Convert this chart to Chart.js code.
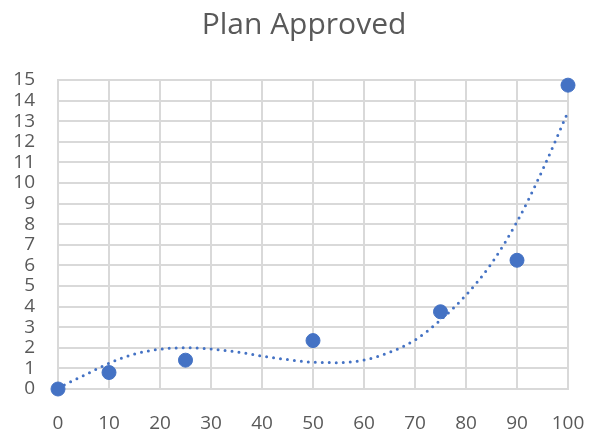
<!DOCTYPE html>
<html>
<head>
<meta charset="utf-8">
<script src="https://cdn.jsdelivr.net/npm/chart.js@4/dist/chart.umd.min.js"></script>
<style>
  html, body { margin: 0; padding: 0; background: #ffffff; }
  #wrap { width: 591px; height: 430px; }
</style>
</head>
<body>
<div id="wrap"><canvas id="c" width="591" height="430"></canvas></div>
<script>
// Observed plan approvals
const xValues = [0, 10, 25, 50, 75, 90, 100];
const yValues = [0, 0.8, 1.4, 2.35, 3.75, 6.25, 14.75];

// Polynomial trendline, sampled every 5 units
const trendX = [0, 5, 10, 15, 20, 25, 30, 35, 40, 45, 50, 55, 60, 65, 70, 75, 80, 85, 90, 95, 100];
const trendY = [0.05, 0.65, 1.25, 1.7, 1.93, 2.0, 1.94, 1.8, 1.6, 1.43, 1.3, 1.28, 1.41, 1.78, 2.38, 3.35, 4.56, 6.1, 8.12, 10.63, 13.46];

// Axis ranges / tick steps
const xTicks = { min: 0, max: 100, step: 10 };
const yTicks = { min: 0, max: 15, step: 1 };

const TITLE = 'Plan Approved';
const BLUE = '#4472C4';
const GRID = '#d9d9d9';
const TEXT = '#595959';
const FONT = "'Open Sans', 'Liberation Sans', sans-serif";

// Chart title, centred over the whole figure
const titlePlugin = {
  id: 'figureTitle',
  afterDraw(chart) {
    const ctx = chart.ctx;
    ctx.save();
    ctx.fillStyle = TEXT;
    ctx.font = `30px ${FONT}`;
    ctx.textAlign = 'center';
    ctx.textBaseline = 'middle';
    ctx.fillText(TITLE, 304, 25);
    ctx.restore();
  }
};

new Chart(document.getElementById('c'), {
  type: 'scatter',
  data: {
    datasets: [
      {
        label: 'Trend',
        type: 'line',
        data: trendX.map((x, i) => ({ x, y: trendY[i] })),
        borderColor: BLUE,
        borderWidth: 3,
        borderDash: [0, 7],
        borderCapStyle: 'round',
        cubicInterpolationMode: 'monotone',
        pointRadius: 0,
        fill: false,
        order: 2
      },
      {
        label: TITLE,
        data: xValues.map((x, i) => ({ x, y: yValues[i] })),
        backgroundColor: BLUE,
        borderColor: BLUE,
        pointRadius: 7,
        pointHoverRadius: 7,
        order: 1
      }
    ]
  },
  plugins: [titlePlugin],
  options: {
    responsive: false,
    animation: false,
    clip: false,
    layout: { padding: { left: 0, right: 23, top: 80, bottom: 0 } },
    plugins: {
      legend: { display: false },
      tooltip: { enabled: false },
      title: { display: false }
    },
    scales: {
      x: {
        type: 'linear',
        min: xTicks.min,
        max: xTicks.max,
        ticks: {
          stepSize: xTicks.step,
          color: TEXT,
          font: { family: FONT, size: 19 },
          padding: 23,
          maxRotation: 0
        },
        grid: { color: GRID, lineWidth: 2, drawTicks: false },
        border: { color: GRID, width: 2 },
        afterFit: s => { s.height = 41; s.paddingLeft = 0; s.paddingRight = 0; }
      },
      y: {
        type: 'linear',
        min: yTicks.min,
        max: yTicks.max,
        ticks: {
          stepSize: yTicks.step,
          color: TEXT,
          font: { family: FONT, size: 19 },
          padding: 23,
          autoSkip: false
        },
        grid: { color: GRID, lineWidth: 2, drawTicks: false },
        border: { color: GRID, width: 2 },
        afterFit: s => { s.width = 58; s.paddingTop = 0; s.paddingBottom = 0; }
      }
    }
  }
});
</script>
</body>
</html>
